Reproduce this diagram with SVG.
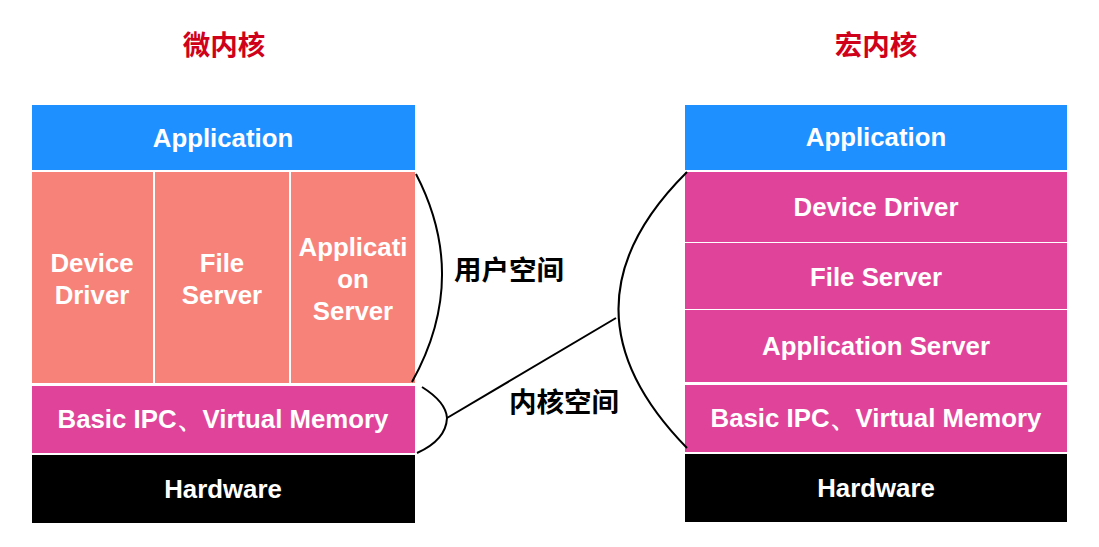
<svg xmlns="http://www.w3.org/2000/svg" width="1099" height="547" viewBox="0 0 1099 547">
<style>
.blue{fill:#1E90FF}
.salmon{fill:#F7827A}
.pink{fill:#E0449A}
.black{fill:#000}
.lbl{font-family:"Liberation Sans",Arial,sans-serif;font-weight:bold;font-size:25.8px;fill:#fff;text-anchor:middle}
.title{font-family:"Noto Sans CJK SC",sans-serif;font-weight:bold;font-size:27.5px;fill:#D0021B;text-anchor:middle}
.cn{font-family:"Noto Sans CJK SC",sans-serif;font-weight:bold;font-size:27.5px;fill:#000;text-anchor:middle}
.curve{fill:none;stroke:#000;stroke-width:2}
</style>
<rect width="1099" height="547" fill="#fff"/>
<g id="title-micro"><text class="title" x="224" y="55">微内核</text></g>
<g id="title-macro"><text class="title" x="876" y="55">宏内核</text></g>

<g id="micro-app"><rect class="blue" x="32" y="105" width="383" height="65"/><text class="lbl" x="223" y="147">Application</text></g>
<g id="micro-device"><rect class="salmon" x="32" y="172" width="121" height="211"/><text class="lbl" x="92" y="272">Device</text><text class="lbl" x="92" y="304">Driver</text></g>
<g id="micro-file"><rect class="salmon" x="155" y="172" width="134" height="211"/><text class="lbl" x="222" y="272">File</text><text class="lbl" x="222" y="304">Server</text></g>
<g id="micro-appserver"><rect class="salmon" x="291" y="172" width="124" height="211"/><text class="lbl" x="353" y="256">Applicati</text><text class="lbl" x="353" y="288">on</text><text class="lbl" x="353" y="320">Server</text></g>
<g id="micro-ipc"><rect class="pink" x="32" y="386" width="383" height="67"/><text class="lbl" x="223" y="428">Basic IPC、Virtual Memory</text></g>
<g id="micro-hw"><rect class="black" x="32" y="455" width="383" height="68"/><text class="lbl" x="223" y="498">Hardware</text></g>

<g id="macro-app"><rect class="blue" x="685" y="105" width="382" height="65"/><text class="lbl" x="876" y="146">Application</text></g>
<g id="macro-device"><rect class="pink" x="685" y="172" width="382" height="70"/><text class="lbl" x="876" y="216">Device Driver</text></g>
<g id="macro-file"><rect class="pink" x="685" y="243" width="382" height="66"/><text class="lbl" x="876" y="286">File Server</text></g>
<g id="macro-appserver"><rect class="pink" x="685" y="310" width="382" height="72"/><text class="lbl" x="876" y="355">Application Server</text></g>
<g id="macro-ipc"><rect class="pink" x="685" y="385" width="382" height="67"/><text class="lbl" x="876" y="427">Basic IPC、Virtual Memory</text></g>
<g id="macro-hw"><rect class="black" x="685" y="454" width="382" height="68"/><text class="lbl" x="876" y="497">Hardware</text></g>

<g id="label-user"><text class="cn" x="509" y="280">用户空间</text></g>
<g id="label-kernel"><text class="cn" x="564" y="412">内核空间</text></g>

<g id="connectors">
<path class="curve" d="M416,174 Q470,278 412,382"/>
<path class="curve" d="M422,387 Q446,402 447,418 Q446,440 417,453"/>
<path class="curve" d="M447,418 L616,318"/>
<path class="curve" d="M687,172 Q550,308 687,448"/>
</g>
</svg>
